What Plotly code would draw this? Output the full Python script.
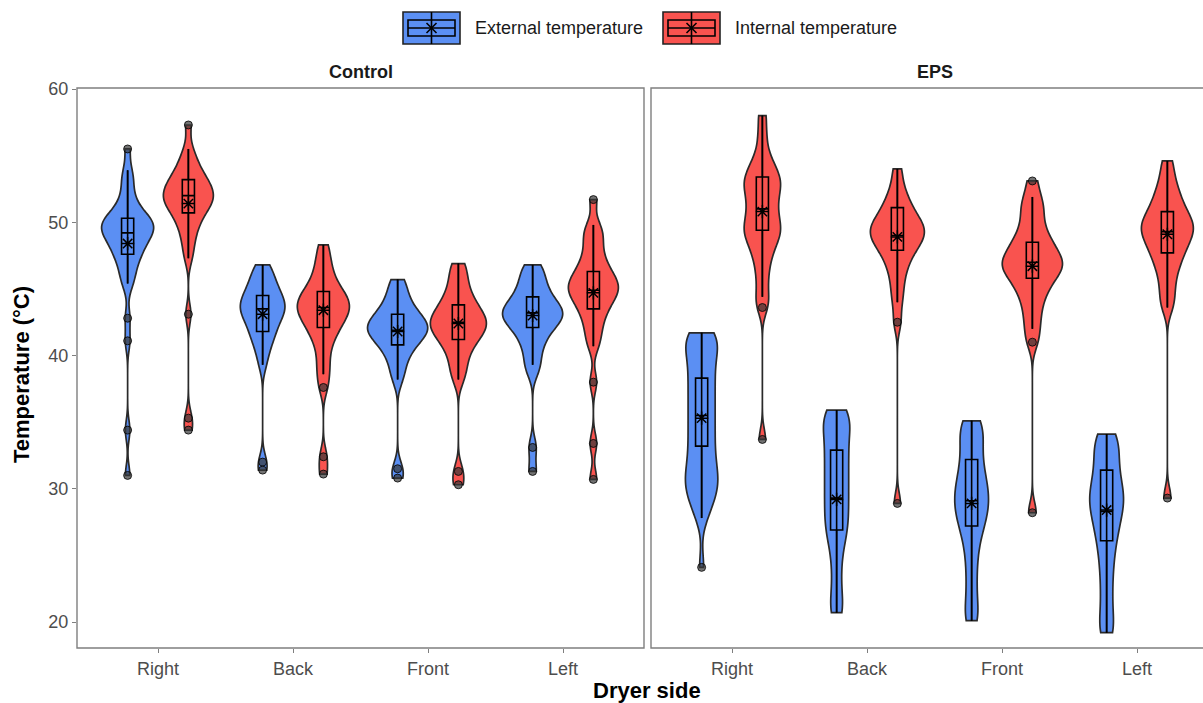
import plotly.graph_objects as go

# ---------------- data ----------------
categories = ["Right", "Back", "Front", "Left"]
series_names = ["External temperature", "Internal temperature"]
panels = ["Control", "EPS"]

# --- Control, external: violin samples (core) and outliers
ctrl_ext_right = [45.2, 45.8, 46.3, 46.8, 47.2, 47.5, 47.8, 48.0, 48.3, 48.5, 48.7, 48.9, 49.1, 49.2, 49.4,
                  49.5, 49.6, 49.8, 49.9, 50.0, 50.2, 50.3, 50.5, 50.7, 51.0, 51.4, 51.9, 52.6, 53.3, 53.9]
ctrl_ext_back = [39.3, 40.2, 40.8, 41.2, 41.6, 41.9, 42.2, 42.5, 42.8, 43.0, 43.2, 43.4, 43.5, 43.7, 43.9,
                 44.1, 44.3, 44.5, 44.7, 45.0, 45.3, 45.6, 46.0, 46.4, 46.8]
ctrl_ext_front = [38.2, 39.0, 39.7, 40.2, 40.6, 40.9, 41.2, 41.4, 41.6, 41.8, 41.9, 42.1, 42.2, 42.4, 42.6,
                  42.8, 43.0, 43.3, 43.6, 44.0, 44.5, 45.1, 45.7]
ctrl_ext_left = [38.8, 39.5, 40.3, 40.9, 41.4, 41.8, 42.1, 42.4, 42.6, 42.8, 43.0, 43.1, 43.3, 43.5, 43.7,
                 43.9, 44.2, 44.5, 44.9, 45.3, 45.8, 46.3, 46.8]
ctrl_ext_right_out = [55.5, 42.8, 41.1, 34.4, 31.0]
ctrl_ext_back_out = [32.0, 31.4]
ctrl_ext_front_out = [31.5, 30.8]
ctrl_ext_left_out = [33.1, 31.3]

# --- Control, internal
ctrl_int_right = [47.3, 48.2, 48.9, 49.5, 49.9, 50.3, 50.6, 50.9, 51.1, 51.3, 51.5, 51.7, 51.8, 52.0, 52.1,
                  52.3, 52.5, 52.7, 52.9, 53.1, 53.3, 53.6, 53.9, 54.3, 54.8, 55.5]
ctrl_int_back = [38.6, 39.4, 40.3, 41.0, 41.5, 41.9, 42.2, 42.5, 42.8, 43.0, 43.2, 43.4, 43.6, 43.8, 44.0,
                 44.2, 44.4, 44.6, 44.9, 45.2, 45.6, 46.1, 46.7, 47.4, 48.3]
ctrl_int_front = [38.2, 39.0, 39.7, 40.3, 40.8, 41.1, 41.4, 41.7, 41.9, 42.1, 42.3, 42.5, 42.7, 42.9, 43.1,
                  43.4, 43.7, 44.0, 44.4, 44.9, 45.5, 46.2, 46.9]
ctrl_int_left = [40.7, 41.5, 42.2, 42.8, 43.3, 43.7, 44.0, 44.3, 44.6, 44.8, 45.0, 45.2, 45.4, 45.6, 45.9,
                 46.2, 46.5, 46.9, 47.4, 48.0, 48.7, 49.2, 49.8]
ctrl_int_right_out = [57.3, 43.1, 35.3, 34.4]
ctrl_int_back_out = [37.6, 32.4, 31.1]
ctrl_int_front_out = [31.3, 30.3]
ctrl_int_left_out = [51.7, 38.0, 33.4, 30.7]

# --- EPS, external
eps_ext_right = [27.8, 28.4, 29.0, 29.4, 29.7, 30.0, 30.3, 30.6, 30.9, 31.2, 31.5, 31.9, 32.3, 32.7, 33.1,
                 33.5, 33.9, 34.3, 34.7, 35.1, 35.5, 35.9, 36.3, 36.7, 37.1, 37.5, 37.9, 38.3, 38.7, 39.1,
                 39.5, 39.9, 40.3, 40.7, 41.0, 41.2, 41.4, 41.6, 41.7]
eps_ext_back = [20.7, 20.8, 21.6, 22.6, 23.6, 24.6, 25.5, 26.1, 26.6, 27.0, 27.4, 27.8, 28.2, 28.6, 29.0,
                29.4, 29.8, 30.2, 30.6, 31.0, 31.4, 31.8, 32.2, 32.6, 33.0, 33.4, 33.8, 34.2, 34.6, 35.0,
                35.3, 35.5, 35.7, 35.9]
eps_ext_front = [20.1, 20.3, 21.2, 22.2, 23.2, 24.2, 25.1, 25.9, 26.5, 27.0, 27.4, 27.8, 28.1, 28.4, 28.7,
                 29.0, 29.3, 29.6, 29.9, 30.2, 30.5, 30.9, 31.3, 31.7, 32.2, 32.7, 33.2, 33.7, 34.2, 34.6,
                 34.9, 35.1]
eps_ext_left = [19.2, 19.4, 20.4, 21.4, 22.4, 23.4, 24.3, 25.1, 25.8, 26.4, 26.9, 27.4, 27.8, 28.2, 28.6,
                28.9, 29.2, 29.5, 29.8, 30.2, 30.6, 31.0, 31.5, 32.0, 32.5, 33.0, 33.5, 33.9, 34.1]
eps_ext_right_out = [24.1]
eps_ext_back_out = []
eps_ext_front_out = []
eps_ext_left_out = []

# --- EPS, internal
eps_int_right = [44.4, 45.5, 46.5, 47.3, 47.9, 48.4, 48.8, 49.1, 49.4, 49.7, 50.0, 50.4, 50.8, 51.2, 51.6,
                 52.0, 52.4, 52.7, 53.0, 53.3, 53.6, 54.0, 54.5, 55.2, 56.5, 58.0]
eps_int_back = [44.0, 45.0, 45.9, 46.6, 47.1, 47.6, 47.9, 48.2, 48.5, 48.7, 48.9, 49.1, 49.3, 49.5, 49.7,
                49.9, 50.1, 50.4, 50.7, 51.1, 51.5, 52.0, 52.8, 54.0]
eps_int_front = [42.0, 42.9, 43.7, 44.4, 44.9, 45.3, 45.7, 46.0, 46.3, 46.5, 46.7, 46.9, 47.1, 47.3, 47.6,
                 47.9, 48.2, 48.5, 48.9, 49.4, 50.0, 50.7, 51.3, 51.9]
eps_int_left = [43.6, 44.5, 45.4, 46.2, 46.8, 47.3, 47.7, 48.1, 48.4, 48.7, 49.0, 49.3, 49.5, 49.7, 49.9,
                50.2, 50.5, 50.8, 51.2, 51.6, 52.1, 52.7, 53.5, 54.6]
eps_int_right_out = [43.6, 33.7]
eps_int_back_out = [42.5, 28.9]
eps_int_front_out = [53.1, 41.0, 28.2]
eps_int_left_out = [29.3]

# --- box statistics per category (Right, Back, Front, Left)
ctrl_ext_low = [45.4, 39.3, 38.2, 39.3]
ctrl_ext_q1 = [47.6, 41.8, 40.8, 42.1]
ctrl_ext_med = [49.2, 43.5, 41.9, 43.2]
ctrl_ext_q3 = [50.3, 44.5, 43.1, 44.4]
ctrl_ext_high = [53.9, 46.8, 45.7, 46.8]
ctrl_ext_mean = [48.4, 43.1, 41.8, 43.0]

ctrl_int_low = [47.3, 38.6, 38.2, 40.7]
ctrl_int_q1 = [50.7, 42.1, 41.2, 43.5]
ctrl_int_med = [52.0, 43.6, 42.5, 44.9]
ctrl_int_q3 = [53.2, 44.8, 43.8, 46.3]
ctrl_int_high = [55.5, 48.3, 46.9, 49.8]
ctrl_int_mean = [51.4, 43.4, 42.4, 44.7]

eps_ext_low = [27.8, 20.7, 20.1, 19.2]
eps_ext_q1 = [33.2, 26.9, 27.2, 26.1]
eps_ext_med = [35.5, 29.3, 29.1, 28.3]
eps_ext_q3 = [38.3, 32.9, 32.2, 31.4]
eps_ext_high = [41.7, 35.9, 35.1, 34.1]
eps_ext_mean = [35.3, 29.2, 28.9, 28.4]

eps_int_low = [44.4, 44.0, 42.0, 43.6]
eps_int_q1 = [49.4, 47.9, 45.8, 47.7]
eps_int_med = [51.0, 49.0, 47.0, 49.3]
eps_int_q3 = [53.4, 51.1, 48.5, 50.8]
eps_int_high = [58.0, 54.0, 51.9, 54.6]
eps_int_mean = [50.8, 48.9, 46.7, 49.1]

# ---------------- styles ----------------
colors = ["#5B8FF3", "#F9534F"]
ctrl_ext_w = [0.385, 0.33, 0.445, 0.445]
ctrl_int_w = [0.37, 0.385, 0.415, 0.37]
eps_ext_w = [0.24, 0.195, 0.25, 0.25]
eps_int_w = [0.27, 0.40, 0.445, 0.385]
bw_ctrl = 0.75
bw_eps_ext = 1.1
bw_eps_int = 0.8

W, H = 1203, 703
px_per_unit = 135.0
y_bottom_px, y_top_px = 648, 88
ctrl_x0_px, ctrl_x1_px = 77, 77 + 4.2 * px_per_unit
eps_x0_px = 651
dodge = 0.225
FONT = "Liberation Sans, Arial, sans-serif"
legend_icon_x = [403, 663]   # left edge of each legend key, px
legend_text_x = [473, 733]
legend_y = 28

groups = [
    (0, 0, [ctrl_ext_right, ctrl_ext_back, ctrl_ext_front, ctrl_ext_left],
     [ctrl_ext_right_out, ctrl_ext_back_out, ctrl_ext_front_out, ctrl_ext_left_out],
     ctrl_ext_low, ctrl_ext_q1, ctrl_ext_med, ctrl_ext_q3, ctrl_ext_high, ctrl_ext_mean, ctrl_ext_w, bw_ctrl),
    (0, 1, [ctrl_int_right, ctrl_int_back, ctrl_int_front, ctrl_int_left],
     [ctrl_int_right_out, ctrl_int_back_out, ctrl_int_front_out, ctrl_int_left_out],
     ctrl_int_low, ctrl_int_q1, ctrl_int_med, ctrl_int_q3, ctrl_int_high, ctrl_int_mean, ctrl_int_w, bw_ctrl),
    (1, 0, [eps_ext_right, eps_ext_back, eps_ext_front, eps_ext_left],
     [eps_ext_right_out, eps_ext_back_out, eps_ext_front_out, eps_ext_left_out],
     eps_ext_low, eps_ext_q1, eps_ext_med, eps_ext_q3, eps_ext_high, eps_ext_mean, eps_ext_w, bw_eps_ext),
    (1, 1, [eps_int_right, eps_int_back, eps_int_front, eps_int_left],
     [eps_int_right_out, eps_int_back_out, eps_int_front_out, eps_int_left_out],
     eps_int_low, eps_int_q1, eps_int_med, eps_int_q3, eps_int_high, eps_int_mean, eps_int_w, bw_eps_int),
]

fig = go.Figure()
for (p, s, samples, outs, lo, q1, med, q3, hi, mn, widths, bw) in groups:
    xa = "x" if p == 0 else "x2"
    ya = "y" if p == 0 else "y2"
    for ci in range(len(categories)):
        pos = ci + 1 + (-dodge if s == 0 else dodge)
        vals = samples[ci] + outs[ci]
        fig.add_trace(go.Violin(
            x0=pos, y=vals, width=widths[ci], scalemode="width", spanmode="hard",
            bandwidth=bw, fillcolor=colors[s], line=dict(color="#2a2a2a", width=1.7),
            points=False, box_visible=False, meanline_visible=False,
            name=series_names[s], showlegend=False, xaxis=xa, yaxis=ya, hoverinfo="skip"))
        fig.add_trace(go.Box(
            x=[pos], q1=[q1[ci]], median=[med[ci]], q3=[q3[ci]],
            lowerfence=[lo[ci]], upperfence=[hi[ci]], width=0.09, whiskerwidth=0,
            fillcolor="rgba(0,0,0,0)", line=dict(color="black", width=1.6),
            boxpoints=False, showlegend=False, xaxis=xa, yaxis=ya, hoverinfo="skip"))
        fig.add_trace(go.Scatter(
            x=[pos, pos], y=[lo[ci], hi[ci]], mode="lines",
            line=dict(color="black", width=1.6), showlegend=False,
            xaxis=xa, yaxis=ya, hoverinfo="skip"))
        if outs[ci]:
            fig.add_trace(go.Scatter(
                x=[pos] * len(outs[ci]), y=outs[ci], mode="markers",
                marker=dict(size=8, color="rgba(55,55,55,0.7)",
                            line=dict(color="rgba(0,0,0,0.8)", width=1)),
                showlegend=False, xaxis=xa, yaxis=ya, hoverinfo="skip"))
        fig.add_trace(go.Scatter(
            x=[pos], y=[mn[ci]], mode="markers",
            marker=dict(symbol="asterisk-open", size=11, color="black",
                        line=dict(color="black", width=1.5)),
            showlegend=False, xaxis=xa, yaxis=ya, hoverinfo="skip"))

ydom = [1 - y_bottom_px / H, 1 - y_top_px / H]
yrange_px = 13.325
yr = [20 - (y_bottom_px - 622) / yrange_px, 60 + (89 - y_top_px) / yrange_px]

axis_common = dict(showgrid=False, zeroline=False, showline=False, ticks="outside",
                   ticklen=4, tickwidth=1.2, tickcolor="#7f7f7f",
                   tickfont=dict(family=FONT, size=18, color="#4d4d4d"))


def px(x):
    return x / W


def py(y):
    return 1 - y / H


shapes = [
    dict(type="rect", xref="paper", yref="paper", x0=px(ctrl_x0_px), x1=px(ctrl_x1_px),
         y0=ydom[0], y1=ydom[1], line=dict(color="#7f7f7f", width=1.4)),
    dict(type="rect", xref="paper", yref="paper", x0=px(eps_x0_px), x1=1.03,
         y0=ydom[0], y1=ydom[1], line=dict(color="#7f7f7f", width=1.4)),
]
annotations = [
    dict(text="<b>Control</b>", xref="paper", yref="paper", x=px((ctrl_x0_px + ctrl_x1_px) / 2),
         y=py(72), xanchor="center", yanchor="middle", showarrow=False,
         font=dict(family=FONT, size=18, color="#1a1a1a")),
    dict(text="<b>EPS</b>", xref="paper", yref="paper",
         x=px((2 * eps_x0_px + 4.2 * px_per_unit) / 2), y=py(72), xanchor="center",
         yanchor="middle", showarrow=False, font=dict(family=FONT, size=18, color="#1a1a1a")),
    dict(text="<b>Dryer side</b>", xref="paper", yref="paper", x=px(647), y=py(690),
         xanchor="center", yanchor="middle", showarrow=False,
         font=dict(family=FONT, size=22, color="black")),
    dict(text="<b>Temperature (°C)</b>", xref="paper", yref="paper", x=px(22), y=py(375),
         xanchor="center", yanchor="middle", textangle=-90, showarrow=False,
         font=dict(family=FONT, size=22, color="black")),
]

# manual legend keys (violin fill + box + whisker + mean star), with real text labels
for s, name in enumerate(series_names):
    x0 = legend_icon_x[s]
    x1 = x0 + 57
    xc = (x0 + x1) / 2
    yt, yb = legend_y - 16, legend_y + 16
    ln = dict(color="black", width=1.6)
    shapes += [
        dict(type="rect", xref="paper", yref="paper", x0=px(x0), x1=px(x1), y0=py(yb), y1=py(yt),
             fillcolor=colors[s], line=dict(color="#222222", width=1.6)),
        dict(type="rect", xref="paper", yref="paper", x0=px(x0 + 5), x1=px(x1 - 5),
             y0=py(legend_y + 8), y1=py(legend_y - 8), line=ln),
        dict(type="line", xref="paper", yref="paper", x0=px(x0 + 5), x1=px(x1 - 5),
             y0=py(legend_y), y1=py(legend_y), line=ln),
        dict(type="line", xref="paper", yref="paper", x0=px(xc), x1=px(xc),
             y0=py(yb), y1=py(yt), line=ln),
        dict(type="line", xref="paper", yref="paper", x0=px(xc - 5), x1=px(xc + 5),
             y0=py(legend_y - 5), y1=py(legend_y + 5), line=ln),
        dict(type="line", xref="paper", yref="paper", x0=px(xc - 5), x1=px(xc + 5),
             y0=py(legend_y + 5), y1=py(legend_y - 5), line=ln),
    ]
    annotations.append(dict(text=name, xref="paper", yref="paper", x=px(legend_text_x[s]),
                            y=py(legend_y), xanchor="left", yanchor="middle", showarrow=False,
                            font=dict(family=FONT, size=18, color="#1a1a1a")))

fig.update_layout(
    width=W, height=H, autosize=False,
    margin=dict(l=0, r=0, t=0, b=0, autoexpand=False),
    paper_bgcolor="white", plot_bgcolor="white",
    violinmode="overlay", boxmode="overlay", showlegend=False,
    xaxis=dict(domain=[px(ctrl_x0_px), px(ctrl_x1_px)], range=[0.4, 4.6], type="linear",
               tickvals=[1, 2, 3, 4], ticktext=categories, anchor="y", **axis_common),
    xaxis2=dict(domain=[px(eps_x0_px), 1.0],
                range=[0.4, 0.4 + (W - eps_x0_px) / px_per_unit], type="linear",
                tickvals=[1, 2, 3, 4], ticktext=categories, anchor="y2", **axis_common),
    yaxis=dict(domain=ydom, range=yr, tickvals=[20, 30, 40, 50, 60], anchor="x", **axis_common),
    yaxis2=dict(domain=ydom, range=yr, anchor="x2", showgrid=False, zeroline=False,
                showticklabels=False, ticks=""),
    font=dict(family=FONT),
    shapes=shapes,
    annotations=annotations,
)

fig.write_html("out.html")
